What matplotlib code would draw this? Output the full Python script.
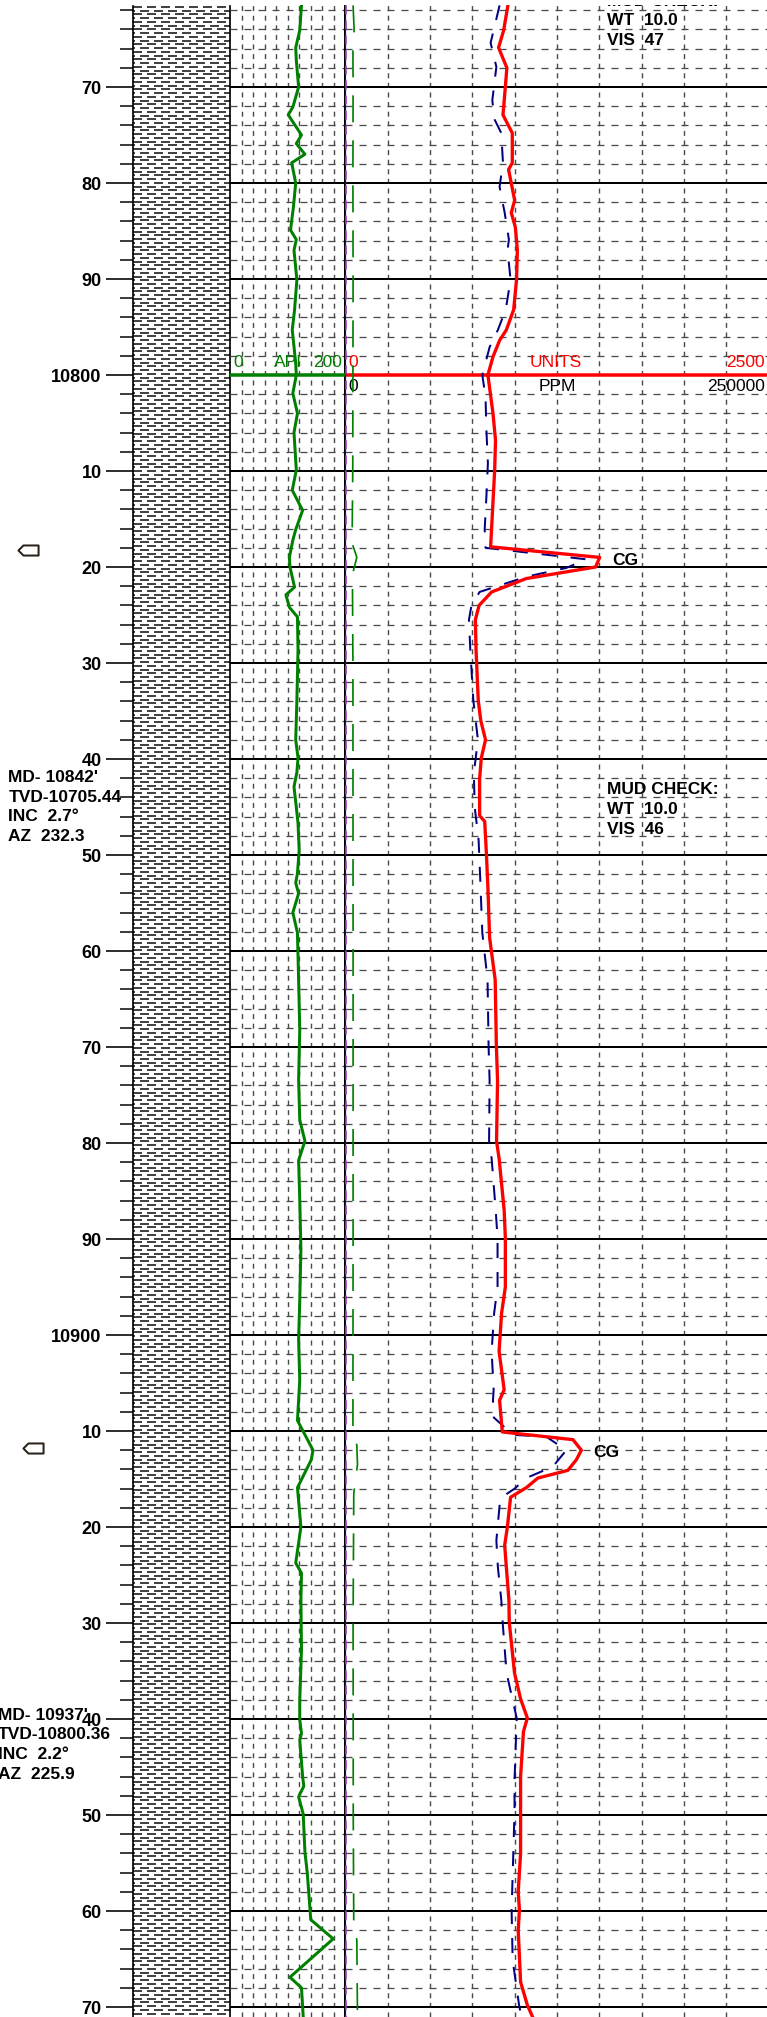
import numpy as np
import matplotlib
matplotlib.use("Agg")
import matplotlib.pyplot as plt
from matplotlib.collections import LineCollection
from matplotlib.path import Path

plt.rcParams['font.family'] = ['Liberation Sans', 'DejaVu Sans']
plt.rcParams['lines.scale_dashes'] = False

# ---------------------------------------------------------------- DATA
gr_depth = [10761.5, 10764.1, 10765.9, 10767.2, 10770.0, 10772.1, 10772.9, 10775.0, 10775.9,
            10777.0, 10777.9, 10780.0, 10782.5, 10784.9, 10785.9, 10787.0, 10790.1, 10793.2,
            10795.3, 10798.8, 10800.0, 10801.9, 10804.0, 10806.0, 10809.9, 10812.0, 10814.1,
            10816.1, 10817.2, 10819.0, 10820.0, 10822.1, 10822.9, 10824.2, 10825.2, 10828.6,
            10833.9, 10838.0, 10839.9, 10841.4, 10842.9, 10845.0, 10846.7, 10849.5, 10851.9,
            10852.9, 10854.0, 10856.0, 10858.1, 10863.0, 10868.2, 10873.4, 10877.6, 10879.8,
            10881.8, 10885.9, 10891.1, 10896.4, 10900.5, 10904.7, 10906.8, 10908.9, 10912.0,
            10913.0, 10915.9, 10920.0, 10923.75, 10924.8, 10927.6, 10932.8, 10938.0, 10940.1,
            10941.5, 10942.2, 10946.0, 10947.0, 10948.1, 10949.9, 10953.9, 10956.0, 10960.0,
            10960.9, 10962.9, 10966.9, 10968.0, 10971.0]
gr_api = [124, 121, 114, 115, 119, 109, 101, 124, 115,
          130, 107, 114, 110, 105, 115, 111, 116, 112,
          108, 114, 115, 109, 117, 111, 115, 108, 126,
          114, 109, 103, 104, 112, 97, 103, 117, 118,
          116, 114, 118, 116, 111, 115, 118, 120, 117,
          114, 119, 109, 117, 119, 121, 119, 121, 130,
          119, 121, 123, 121, 119, 121, 119, 117, 144,
          141, 117, 123, 114, 124, 123, 124, 121, 121,
          124, 121, 126, 128, 119, 127, 130, 134, 139,
          140, 179, 104, 124, 127]

tg_depth = [10761.5, 10764.1, 10765.9, 10768.0, 10770.0, 10772.9, 10774.8, 10777.9, 10778.6,
            10781.8, 10783.1, 10784.6, 10787.0, 10790.1, 10793.2, 10795.3, 10796.4, 10798.1,
            10800.0, 10804.0, 10806.8, 10809.9, 10817.9, 10819.0, 10820.0, 10821.2, 10822.6,
            10824.0, 10825.5, 10828.6, 10833.9, 10836.0, 10838.0, 10839.9, 10842.1, 10845.9,
            10846.5, 10849.8, 10853.4, 10858.6, 10863.0, 10869.9, 10873.5, 10879.8, 10881.6,
            10887.0, 10889.9, 10895.0, 10897.7, 10901.7, 10905.7, 10906.8, 10908.9, 10910.1,
            10910.9, 10912.0, 10913.0, 10914.1, 10914.9, 10915.9, 10916.9, 10920.0, 10921.9,
            10924.2, 10927.6, 10929.9, 10935.2, 10937.9, 10939.9, 10941.3, 10946.0, 10949.8,
            10954.0, 10958.0, 10959.9, 10962.0, 10967.4, 10969.8, 10971.0]
tg_units = [960, 935, 905, 954, 945, 931, 986, 986, 964,
            1000, 980, 1004, 1016, 1011, 994, 951, 911, 872,
            842, 872, 887, 882, 858, 1502, 1478, 1069, 864,
            790, 768, 772, 785, 800, 828, 803, 793, 793,
            823, 833, 842, 852, 885, 892, 899, 893, 908,
            938, 945, 945, 923, 908, 938, 911, 921, 927,
            1344, 1394, 1364, 1314, 1137, 1069, 976, 957, 941,
            951, 966, 968, 999, 1035, 1075, 1052, 1035, 1035,
            1035, 1021, 1028, 1021, 1035, 1075, 1105]

c1_depth = [10761.5, 10765.4, 10767.9, 10771.4, 10773.4, 10774.8, 10777.9, 10780.4, 10783.1,
            10785.9, 10787.0, 10790.1, 10793.2, 10795.3, 10797.1, 10800.0, 10802.3, 10805.7,
            10809.2, 10812.7, 10816.1, 10818.0, 10819.2, 10820.1, 10821.0, 10822.6, 10824.0,
            10825.5, 10828.6, 10833.9, 10838.0, 10841.5, 10845.0, 10848.4, 10852.6, 10858.1,
            10863.0, 10869.9, 10873.5, 10879.8, 10881.6, 10887.0, 10889.9, 10895.0, 10897.7,
            10901.7, 10905.7, 10906.8, 10908.6, 10910.4, 10910.6, 10912.0, 10913.7, 10914.9,
            10916.0, 10917.0, 10921.4, 10924.2, 10927.6, 10929.9, 10935.2, 10939.9, 10946.0,
            10949.8, 10959.9, 10965.1, 10969.8, 10971.0]
c1_ppm = [91100, 85800, 89200, 86800, 88200, 92100, 93100, 91100, 94100,
          96600, 95800, 97600, 94700, 90100, 85200, 80900, 82800, 83300,
          84200, 83300, 82300, 82800, 142300, 130500, 107100, 79300, 74500,
          73000, 73800, 75600, 78300, 75900, 76400, 78700, 79700, 80900,
          84000, 84600, 85200, 84900, 86400, 88800, 89900, 89900, 87900,
          86400, 87600, 87200, 87700, 99000, 118700, 130500, 122600, 106900,
          100000, 91500, 89200, 90100, 92100, 92900, 95200, 101200, 100000,
          99900, 98200, 98800, 102600, 104000]

c2_depth = [10761.5, 10764.0, 10766.0, 10770.0, 10780.0, 10790.0, 10800.0, 10810.0, 10817.5,
            10819.0, 10820.8, 10830.0, 10860.0, 10890.0, 10909.5, 10911.5, 10913.5, 10916.5,
            10930.0, 10950.0, 10961.5, 10963.0, 10971.0]
c2_ppm = [4600, 5200, 4500, 4600, 4500, 4600, 4500, 4400, 4000,
          6800, 4200, 4500, 4600, 4600, 4500, 6800, 7200, 5000,
          4600, 4700, 5000, 6800, 7200]

c3_depth = [10761.5, 10971.0]
c3_ppm = [0, 0]
c4_depth = [10761.5, 10971.0]
c4_ppm = [0, 0]

gr_scale = (0, 200)
units_scale = (0, 2500)
ppm_scale = (0, 250000)
header_depth = 10800

mud_check_1 = ["MUD CHECK:", "WT  10.0", "VIS  47"]
mud_check_2 = ["MUD CHECK:", "WT  10.0", "VIS  46"]
survey_1 = ["MD- 10842'", "TVD-10705.44", "INC  2.7\u00b0", "AZ  232.3"]
survey_2 = ["MD- 10937'", "TVD-10800.36", "INC  2.2\u00b0", "AZ  225.9"]
cg_depths = [10819.3, 10912.2]
cg_labels = ["CG", "CG"]
bit_depths = [10818.2, 10911.8]

# ---------------------------------------------------------------- LAYOUT / STYLE
W, H, DPI = 767, 2017, 100


def pt(px):
    return px * 72.0 / DPI


PX_PER_FT = 9.6
REF_DEPTH, REF_Y = 10800.0, 375.0
TOP_Y = 5.5


def y2d(y):
    return REF_DEPTH + (y - REF_Y) / PX_PER_FT


D_TOP, D_BOT = y2d(TOP_Y), y2d(H)

X_LEFT_END = 133.3
X_LITH_END = 230.0
X_GR_END = 345.3
GAS_W = 423.4

GR_C = '#008000'
TG_C = '#ff0000'
C1_C = '#000080'
C3_C = '#0000ff'
C4_C = '#9933aa'
GRID_C = '#4a4a4a'

fig = plt.figure(figsize=(W / DPI, H / DPI), dpi=DPI)
fig.patch.set_facecolor('white')


def add_ax(x0, x1):
    ax = fig.add_axes([x0 / W, 0.0, (x1 - x0) / W, (H - TOP_Y) / H])
    ax.set_ylim(D_BOT, D_TOP)
    ax.patch.set_alpha(0)
    return ax


ax_left = add_ax(0, X_LEFT_END)
ax_left.set_xlim(0, X_LEFT_END)
ax_left.axis('off')

ax_lith = add_ax(X_LEFT_END, X_LITH_END)
ax_lith.set_xlim(0, 1)
ax_gr = add_ax(X_LITH_END, X_GR_END)
ax_gr.set_xlim(*gr_scale)
ax_gas = add_ax(X_GR_END, X_GR_END + GAS_W)
ax_gas.set_xlim(*units_scale)
ax_ppm = add_ax(X_GR_END, X_GR_END + GAS_W)
ax_ppm.set_xlim(*ppm_scale)
ax_ppm.axis('off')
ax_units = add_ax(X_GR_END, X_GR_END + GAS_W)
ax_units.set_xlim(*units_scale)
ax_units.axis('off')

# depth ticks
major = np.arange(10770, 10971, 10)
minor = [d for d in np.arange(10762, 10972, 2) if d % 10]
labels = [str(d) if d % 100 == 0 else str(d % 100) for d in major]
ax_lith.set_yticks(major, labels, fontsize=13, fontweight='bold')
ax_lith.set_yticks(minor, minor=True)
ax_lith.tick_params(axis='y', which='major', length=pt(27.3), width=pt(1.6),
                    pad=pt(4.3), direction='out')
ax_lith.tick_params(axis='y', which='minor', length=pt(13.3), width=pt(1.5),
                    direction='out')
ax_lith.set_xticks([])
for s in ('top', 'bottom'):
    ax_lith.spines[s].set_visible(False)
for s in ('left', 'right'):
    ax_lith.spines[s].set_linewidth(pt(1.7))

# shale pattern
LITH_ROW = 0.39
rows = np.arange(D_TOP + 0.15, D_BOT, LITH_ROW)
segs = [[(0, r), (1, r)] for r in rows]
styles = [((0 if i % 2 == 0 else pt(7)), (pt(9), pt(5))) for i in range(len(rows))]
ax_lith.add_collection(LineCollection(segs, colors='#2e2e2e', linewidths=pt(1.8),
                                      linestyles=styles, zorder=1))

# tracks
for ax in (ax_gr, ax_gas):
    ax.set_xticks([])
    ax.set_yticks([])
    for s in ax.spines.values():
        s.set_visible(False)
ax_gr.spines['right'].set_visible(True)
ax_gr.spines['right'].set_linewidth(pt(2.0))


def draw_grid(ax, xmax, vlines):
    for v in vlines:
        ax.axvline(v, color=GRID_C, lw=pt(1.4), ls=(0, (pt(5.0), pt(4.6))), zorder=1)
    ax.hlines(minor, 0, xmax, colors=GRID_C, lw=pt(1.3),
              linestyles=(0, (pt(7), pt(7))), zorder=1)
    ax.hlines(major, 0, xmax, colors='black', lw=pt(2.0), zorder=1.5)


draw_grid(ax_gr, gr_scale[1], np.arange(20, 200, 20))
draw_grid(ax_gas, units_scale[1], np.arange(250, 2500, 250))

# header at 10800
ax_gr.hlines(header_depth, *gr_scale, colors=GR_C, lw=pt(3.5), zorder=3)
ax_gas.hlines(header_depth, *units_scale, colors=TG_C, lw=pt(3.5), zorder=3)
hfs = 12.5
above = header_depth - 0.85
below = header_depth + 0.45
ax_gr.text(5, above, '0', color=GR_C, fontsize=hfs, ha='left', va='baseline')
ax_gr.text(100, above, 'API', color=GR_C, fontsize=hfs, ha='center', va='baseline')
ax_gr.text(194, above, '200', color=GR_C, fontsize=hfs, ha='right', va='baseline')
ax_gas.text(16, above, '0', color=TG_C, fontsize=hfs, ha='left', va='baseline')
ax_gas.text(1245, above, 'UNITS', color=TG_C, fontsize=hfs, ha='center', va='baseline')
ax_gas.text(2474, above, '2500', color=TG_C, fontsize=hfs, ha='right', va='baseline')
ax_gas.text(20, below, '0', color='black', fontsize=hfs, ha='left', va='top')
ax_gas.text(1250, below, 'PPM', color='black', fontsize=hfs, ha='center', va='top')
ax_gas.text(2478, below, '250000', color='black', fontsize=hfs, ha='right', va='top')

# curves
ax_gr.plot(gr_api, gr_depth, color=GR_C, lw=pt(3.0), zorder=5)
ax_ppm.plot(c2_ppm, c2_depth, color=GR_C, lw=pt(1.7), ls=(0, (pt(27), pt(18))), zorder=4)
ax_ppm.plot(c1_ppm, c1_depth, color=C1_C, lw=pt(2.0), ls=(0, (pt(15), pt(14))), zorder=4)
ax_units.plot(c3_ppm, c3_depth, color=C3_C, lw=pt(2.2), zorder=5)
ax_units.plot(c4_ppm, c4_depth, color=C4_C, lw=pt(2.5), ls=(0, (pt(9), pt(6))), zorder=6)
ax_units.plot(tg_units, tg_depth, color=TG_C, lw=pt(3.3), zorder=7)

# annotations
TXT_FS = 12.5
LINE_FT = 2.06
for lines, d0 in ((mud_check_1, 10761.05), (mud_check_2, 10843.2)):
    for i, t in enumerate(lines):
        ax_units.text(1545, d0 + i * LINE_FT, t, fontsize=TXT_FS, fontweight='bold',
                      ha='left', va='center', clip_on=True, zorder=8)

for d, t, xu in zip(cg_depths, cg_labels, (1576, 1464)):
    ax_units.text(xu, d, t, fontsize=12.5, fontweight='bold', ha='left', va='center', zorder=8)

for lines, d0, x0 in ((survey_1, 10841.9, 8.3), (survey_2, 10939.6, -2.5)):
    for i, t in enumerate(lines):
        ax_left.text(x0, d0 + i * LINE_FT, t, fontsize=TXT_FS, fontweight='bold',
                     ha='left', va='center')

bit_marker = Path([(-1, 0), (-0.5, 0.5), (1, 0.5), (1, -0.5), (-0.5, -0.5), (-1, 0)],
                  [Path.MOVETO, Path.LINETO, Path.LINETO, Path.LINETO, Path.LINETO,
                   Path.CLOSEPOLY])
for d, xp in zip(bit_depths, (27.8, 32.5)):
    ax_left.plot([xp], [d], marker=bit_marker, ms=14.5, mfc='white', mec='#2a2017',
                 mew=pt(2.0), ls='none', clip_on=False)

fig.savefig('out.png', dpi=DPI, facecolor='white')
